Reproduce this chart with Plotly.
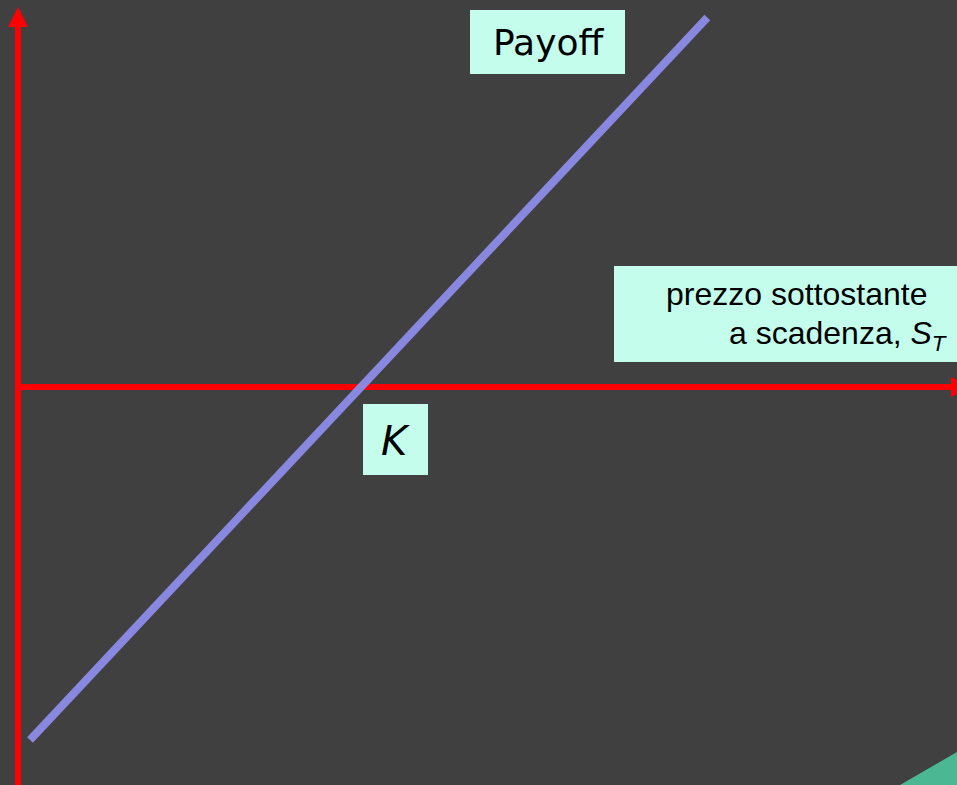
import plotly.graph_objects as go

# ---- data (payoff of a long forward: S_T - K) ----
strike_K = 100
spot_ST = [3.5, 201.0]
payoff = [-96.5, 101.0]

# axis extents in data units
x_range = [-5.25, 273.8]
y_range = [-108.8, 105.8]

W, H = 957, 785
BG = "#404040"
RED = "#ff0000"
LINE = "#8888e0"
BOX = "#c4fdec"
GREEN = "#4cb893"


def px(x):
    return x / W


def py(y):
    return 1 - y / H


fig = go.Figure()

fig.add_trace(go.Scatter(
    x=spot_ST, y=payoff, mode="lines",
    line=dict(color=LINE, width=8), hoverinfo="skip", showlegend=False,
))

shapes = []
# vertical axis (payoff) with arrow
shapes.append(dict(type="line", xref="paper", yref="paper",
                   x0=px(18), x1=px(18), y0=py(785), y1=py(24),
                   line=dict(color=RED, width=6), layer="below"))
shapes.append(dict(type="path", xref="paper", yref="paper",
                   path=f"M {px(8)} {py(27)} L {px(18)} {py(7)} L {px(28)} {py(27)} Z",
                   fillcolor=RED, line=dict(width=0), layer="below"))
# horizontal axis (S_T) with arrow
shapes.append(dict(type="line", xref="paper", yref="paper",
                   x0=px(15), x1=px(957), y0=py(387), y1=py(387),
                   line=dict(color=RED, width=6), layer="below"))
shapes.append(dict(type="path", xref="paper", yref="paper",
                   path=f"M {px(951)} {py(377)} L {px(971)} {py(387)} L {px(951)} {py(397)} Z",
                   fillcolor=RED, line=dict(width=0), layer="below"))
# label boxes
for x0, y0, x1, y1 in [(470, 10, 625, 74), (614, 266, 957, 362), (363, 404, 428, 475)]:
    shapes.append(dict(type="rect", xref="paper", yref="paper",
                       x0=px(x0), x1=px(x1), y0=py(y1), y1=py(y0),
                       fillcolor=BOX, line=dict(width=0), layer="above"))
# green corner triangle
shapes.append(dict(type="path", xref="paper", yref="paper",
                   path=f"M {px(900)} {py(785)} L {px(957)} {py(752)} L {px(957)} {py(785)} Z",
                   fillcolor=GREEN, line=dict(width=0), layer="above"))

annotations = [
    dict(text="Payoff", x=px(548), y=py(43), xref="paper", yref="paper",
         showarrow=False, xanchor="center", yanchor="middle",
         font=dict(family="DejaVu Sans", size=36, color="#000000")),
    dict(text="<i>K</i>", x=px(395), y=py(441), xref="paper", yref="paper",
         showarrow=False, xanchor="center", yanchor="middle",
         font=dict(family="DejaVu Sans", size=40, color="#000000")),
    dict(text="prezzo sottostante", x=px(929), y=py(294), xref="paper", yref="paper",
         showarrow=False, xanchor="right", yanchor="middle",
         font=dict(family="Liberation Sans", size=32, color="#000000")),
    dict(text="a scadenza, <i>S</i><sub><i>T</i></sub>", x=px(949), y=py(335),
         xref="paper", yref="paper",
         showarrow=False, xanchor="right", yanchor="middle",
         font=dict(family="Liberation Sans", size=32, color="#000000")),
]

fig.update_layout(
    width=W, height=H,
    margin=dict(l=0, r=0, t=0, b=0),
    paper_bgcolor=BG, plot_bgcolor=BG,
    xaxis=dict(range=x_range, visible=False, fixedrange=True),
    yaxis=dict(range=y_range, visible=False, fixedrange=True),
    shapes=shapes, annotations=annotations,
    showlegend=False,
)

fig.write_html(
    "out.html",
    config={"displayModeBar": False},
    post_script="document.body.style.margin='0';document.body.style.background='#404040';",
)
